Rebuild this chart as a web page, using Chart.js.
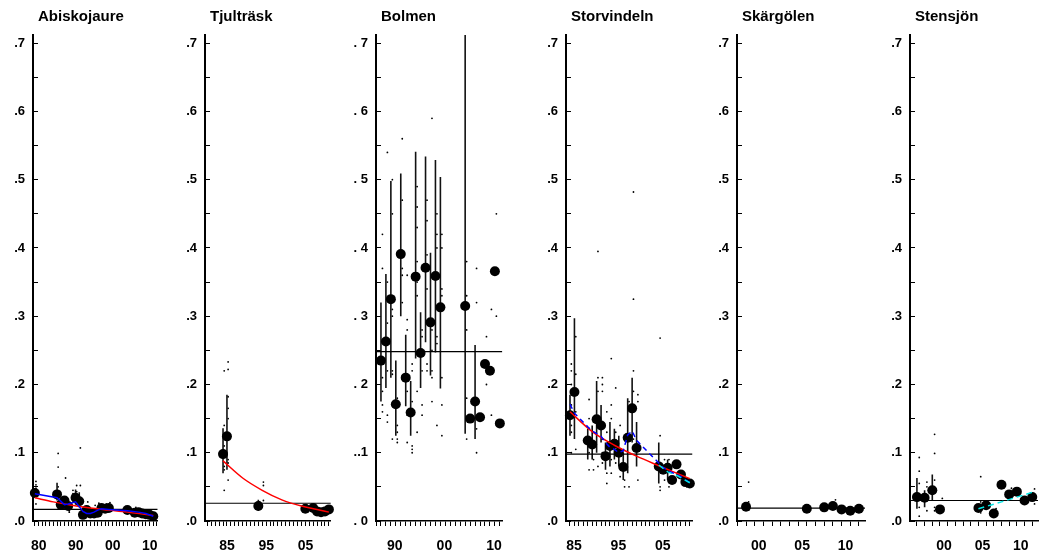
<!DOCTYPE html>
<html>
<head>
<meta charset="utf-8">
<script src="https://cdn.jsdelivr.net/npm/chart.js@4.4.1/dist/chart.umd.min.js"></script>
<style>
  body { margin: 0; background: #fff; width: 1041px; height: 554px; position: relative; overflow: hidden; }
  canvas { position: absolute; top: 0; }
</style>
</head>
<body>
<canvas id="p0"></canvas>
<canvas id="p1"></canvas>
<canvas id="p2"></canvas>
<canvas id="p3"></canvas>
<canvas id="p4"></canvas>
<canvas id="p5"></canvas>
<script>
// ---- data ----
const panelNames = ['Abiskojaure', 'Tjulträsk', 'Bolmen', 'Storvindeln', 'Skärgölen', 'Stensjön'];

// Abiskojaure
const abiRange = [1979.5, 2013.2];
const abiLabelYears = [1980, 1990, 2000, 2010];
const abiYears = [1980, 1986, 1987, 1988, 1989, 1991, 1992, 1993, 1994, 1995, 1996, 1997, 1998, 1999, 2000, 2005, 2007, 2008, 2009, 2010, 2011, 2012];
const abiMeans = [0.041, 0.039, 0.024, 0.030, 0.022, 0.034, 0.029, 0.009, 0.016, 0.011, 0.011, 0.012, 0.019, 0.018, 0.019, 0.016, 0.012, 0.013, 0.011, 0.010, 0.009, 0.007];
const abiBarYears = [1980, 1986, 1991, 1992];
const abiBarLo = [0.036, 0.030, 0.024, 0.020];
const abiBarHi = [0.048, 0.056, 0.046, 0.042];
const abiSmallYears = [1980, 1986, 1988, 1989, 1990, 1991, 1992, 1993, 1994, 1996, 1997, 1999, 2000, 2007];
const abiSmallVals = [[0.058, 0.053, 0.048, 0.025], [0.099, 0.079, 0.050], [0.063, 0.035], [0.015, 0.013], [0.045, 0.040], [0.052, 0.043], [0.107, 0.052], [0.020], [0.028], [0.023], [0.026], [0.025], [0.027], [0.020]];
const abiOverall = 0.017;
const abiRedYears = [1980, 1985, 1990, 1995, 2000, 2005, 2012];
const abiRedVals = [0.034, 0.028, 0.023, 0.019, 0.016, 0.013, 0.008];
const abiBlueYears = [1980, 1986, 1988, 1989, 1991, 1992, 1993, 1994, 1995, 1996, 1997, 1998, 2000, 2005, 2008, 2010, 2012];
const abiBlueVals = [0.040, 0.034, 0.024, 0.025, 0.028, 0.021, 0.014, 0.011, 0.011, 0.013, 0.016, 0.018, 0.017, 0.015, 0.013, 0.011, 0.007];

// Tjulträsk
const tjuRange = [1980.4, 2012.5];
const tjuLabelYears = [1985, 1995, 2005];
const tjuYears = [1985, 1986, 1994, 2006, 2008, 2009, 2010, 2011, 2012];
const tjuMeans = [0.098, 0.124, 0.022, 0.018, 0.019, 0.014, 0.013, 0.014, 0.017];
const tjuBarYears = [1985, 1986, 1994];
const tjuBarLo = [0.070, 0.075, 0.015];
const tjuBarHi = [0.136, 0.185, 0.031];
const tjuSmallYears = [1985, 1986, 1994, 1995];
const tjuSmallVals = [[0.220, 0.140, 0.110, 0.080, 0.075, 0.045], [0.233, 0.222, 0.182, 0.165, 0.150, 0.090, 0.085, 0.060], [0.028], [0.057, 0.052, 0.030]];
const tjuOverall = 0.026;
const tjuRedYears = [1985, 1990, 1995, 2000, 2005, 2009, 2012];
const tjuRedVals = [0.088, 0.063, 0.045, 0.031, 0.022, 0.017, 0.013];

// Bolmen
const bolRange = [1987, 2012.5];
const bolLabelYears = [1990, 2000, 2010];
const bolYLabels = ['. 0', '..1', '. 2', '. 3', '. 4', '. 5', '. 6', '. 7'];
const bolYears = [1988, 1989, 1990, 1991, 1992, 1993, 1994, 1995, 1996, 1997, 1998, 1999, 2000, 2005, 2006, 2007, 2008, 2009, 2010, 2011, 2012];
const bolMeans = [0.235, 0.263, 0.325, 0.171, 0.391, 0.210, 0.159, 0.358, 0.246, 0.371, 0.291, 0.359, 0.313, 0.315, 0.150, 0.175, 0.152, 0.230, 0.220, 0.366, 0.143];
const bolBarYears = [1988, 1989, 1990, 1991, 1992, 1993, 1994, 1995, 1996, 1997, 1998, 1999, 2000, 2005, 2007];
const bolBarLo = [0.175, 0.195, 0.210, 0.125, 0.300, 0.168, 0.125, 0.238, 0.195, 0.262, 0.213, 0.247, 0.194, 0.128, 0.120];
const bolBarHi = [0.320, 0.362, 0.498, 0.235, 0.509, 0.273, 0.205, 0.541, 0.306, 0.534, 0.393, 0.529, 0.504, 0.712, 0.258];
const bolSmallYears = [1988, 1989, 1990, 1991, 1992, 1993, 1994, 1995, 1996, 1997, 1998, 1999, 2000, 2005, 2007, 2009, 2010, 2011];
const bolSmallVals = [
  [0.42, 0.37, 0.21, 0.19, 0.17, 0.16], [0.54, 0.35, 0.29, 0.22, 0.155, 0.145], [0.50, 0.45, 0.31, 0.30, 0.22, 0.215, 0.12],
  [0.18, 0.14, 0.13, 0.12, 0.115], [0.56, 0.47, 0.37, 0.36, 0.32], [0.36, 0.295, 0.28, 0.19, 0.155, 0.115],
  [0.23, 0.22, 0.175, 0.16, 0.11, 0.105, 0.10], [0.49, 0.46, 0.43, 0.38, 0.35, 0.33, 0.19, 0.13], [0.28, 0.27, 0.22, 0.17, 0.155],
  [0.47, 0.44, 0.39, 0.34, 0.23, 0.22], [0.59, 0.28, 0.25, 0.22, 0.21, 0.175], [0.45, 0.42, 0.40, 0.27, 0.26, 0.14],
  [0.42, 0.40, 0.34, 0.33, 0.21, 0.17, 0.125], [0.38, 0.33, 0.28, 0.18, 0.12], [0.37, 0.32, 0.15, 0.135, 0.10],
  [0.27, 0.20], [0.31, 0.155], [0.45, 0.30]
];
const bolOverall = 0.248;

// Storvindeln
const stvRange = [1984.1, 2012.6];
const stvLabelYears = [1985, 1995, 2005];
const stvYears = [1985, 1986, 1989, 1990, 1991, 1992, 1993, 1994, 1995, 1996, 1997, 1998, 1999, 2000, 2005, 2006, 2007, 2008, 2009, 2010, 2011, 2012];
const stvMeans = [0.155, 0.189, 0.118, 0.112, 0.149, 0.140, 0.095, 0.110, 0.113, 0.100, 0.079, 0.122, 0.165, 0.107, 0.080, 0.075, 0.078, 0.060, 0.083, 0.068, 0.057, 0.055];
const stvBarYears = [1985, 1986, 1989, 1990, 1991, 1992, 1993, 1994, 1995, 1996, 1997, 1998, 1999, 2000, 2005, 2007];
const stvBarLo = [0.125, 0.120, 0.090, 0.090, 0.100, 0.115, 0.075, 0.080, 0.090, 0.080, 0.060, 0.070, 0.115, 0.080, 0.055, 0.060];
const stvBarHi = [0.185, 0.297, 0.135, 0.140, 0.205, 0.170, 0.115, 0.145, 0.135, 0.125, 0.100, 0.180, 0.210, 0.145, 0.115, 0.090];
const stvSmallYears = [1985, 1986, 1989, 1990, 1991, 1992, 1993, 1994, 1995, 1996, 1997, 1998, 1999, 2000, 2005, 2006, 2007, 2009, 2011];
const stvSmallVals = [
  [0.230, 0.220, 0.200, 0.170, 0.140, 0.130, 0.100], [0.270, 0.215, 0.160, 0.105], [0.178, 0.150, 0.100, 0.075],
  [0.145, 0.090, 0.075], [0.395, 0.210, 0.190, 0.080], [0.210, 0.200, 0.190, 0.120, 0.100, 0.085],
  [0.160, 0.130, 0.070, 0.055], [0.238, 0.170, 0.150, 0.090, 0.070], [0.195, 0.130, 0.085], [0.140, 0.065],
  [0.060, 0.050], [0.175, 0.050], [0.482, 0.325, 0.220, 0.190, 0.120], [0.185, 0.175, 0.060],
  [0.268, 0.125, 0.050, 0.045], [0.090, 0.060], [0.090, 0.050], [0.070], [0.050]
];
const stvOverall = 0.098;
const stvRedYears = [1985, 1990, 1995, 2000, 2005, 2012];
const stvRedVals = [0.160, 0.131, 0.111, 0.095, 0.081, 0.062];
const stvBlueYears = [1985, 1986, 1989, 1990, 1991, 1992, 1993, 1994, 1995, 1996, 1997, 1998, 1999, 2000, 2005, 2006, 2008, 2010, 2012];
const stvBlueVals = [0.171, 0.158, 0.138, 0.132, 0.128, 0.124, 0.115, 0.108, 0.105, 0.100, 0.103, 0.126, 0.132, 0.118, 0.085, 0.078, 0.071, 0.065, 0.056];
const stvCyanYears = [2005, 2007, 2009, 2012];
const stvCyanVals = [0.082, 0.072, 0.067, 0.056];

// Skärgölen
const skaRange = [1997.96, 2012.7];
const skaLabelYears = [2000, 2005, 2010];
const skaYears = [1999, 2006, 2008, 2009, 2010, 2011, 2012];
const skaMeans = [0.021, 0.018, 0.020, 0.022, 0.017, 0.015, 0.018];
const skaBarYears = [1999];
const skaBarLo = [0.015];
const skaBarHi = [0.026];
const skaSmallYears = [1999, 2009];
const skaSmallVals = [[0.057, 0.028, 0.016], [0.031]];
const skaOverall = 0.019;

// Stensjön
const steRange = [1996.1, 2012.75];
const steLabelYears = [2000, 2005, 2010];
const steYears = [1997, 1998, 1999, 2000, 2005, 2006, 2007, 2008, 2009, 2010, 2011, 2012];
const steMeans = [0.035, 0.034, 0.045, 0.017, 0.019, 0.023, 0.011, 0.053, 0.039, 0.043, 0.030, 0.035];
const steBarYears = [1997, 1998, 1999];
const steBarLo = [0.018, 0.020, 0.030];
const steBarHi = [0.063, 0.045, 0.068];
const steSmallYears = [1997, 1998, 1999, 2000, 2005, 2007, 2009, 2012];
const steSmallVals = [[0.093, 0.073, 0.055, 0.040, 0.020, 0.007], [0.057, 0.050, 0.015], [0.127, 0.099, 0.060, 0.020, 0.015], [0.033, 0.020], [0.065, 0.028, 0.012], [0.018], [0.048], [0.047, 0.025]];
const steOverall = 0.030;
const steCyanYears = [2005, 2008, 2010, 2012];
const steCyanVals = [0.018, 0.028, 0.035, 0.042];

// ---- layout ----
const axisLeft = [33, 205, 376, 566, 737, 910];
const plotW = 128;
const yAxisW = 40;
const FONT = '"Liberation Sans", Arial, Helvetica, sans-serif';

const pts = (xs, ys) => xs.map((x, i) => ({x, y: ys[i]}));
const segs = (xs, lo, hi) => xs.flatMap((x, i) => [{x, y: lo[i]}, {x, y: hi[i]}, {x, y: null}]);
const cloud = (xs, vals) => xs.flatMap((x, i) => vals[i].map(v => ({x: x + 0.3, y: v})));

const titlePlugin = {
  id: 'panelTitle',
  afterDraw(chart, args, opts) {
    const c = chart.ctx;
    c.save();
    c.font = 'bold 15px ' + FONT;
    c.fillStyle = '#000';
    c.textBaseline = 'middle';
    c.fillText(opts.text, chart.chartArea.left + 5, 17);
    c.restore();
  }
};

function lineSet(data, color, width, dash, order) {
  return {type: 'line', data, borderColor: color, borderWidth: width, borderDash: dash || [],
    pointRadius: 0, tension: 0, fill: false, order, spanGaps: false};
}

function makePanel(idx, p) {
  const cv = document.getElementById('p' + idx);
  cv.width = yAxisW + plotW + 8;
  cv.height = 554;
  cv.style.left = (axisLeft[idx] - yAxisW) + 'px';

  const datasets = [
    {type: 'scatter', data: cloud(p.smallYears, p.smallVals), pointRadius: 0.9, pointBackgroundColor: '#000', pointBorderWidth: 0, order: 6, clip: false},
    lineSet(segs(p.barYears, p.barLo, p.barHi), '#111', 1.6, null, 5),
    lineSet([{x: p.range[0], y: p.overall}, {x: p.range[1], y: p.overall}], '#000', 1.2, null, 4),
    {type: 'scatter', data: pts(p.years, p.means), pointRadius: 5, pointBackgroundColor: '#000', pointBorderWidth: 0, order: 3, clip: false}
  ];
  if (p.red) datasets.push(Object.assign(lineSet(pts(p.red[0], p.red[1]), '#ff0000', 1.5, null, 2), {tension: 0.4, cubicInterpolationMode: 'monotone'}));
  if (p.blue) datasets.push(lineSet(pts(p.blue[0], p.blue[1]), '#0000ff', 1.5, p.blueDash, 1));
  if (p.cyan) datasets.push(lineSet(pts(p.cyan[0], p.cyan[1]), '#00e5e5', 1.5, [6, 4], 0));

  const inRange = s => { s.ticks = s.ticks.filter(t => t.value >= s.min - 1e-9 && t.value <= s.max + 1e-9); };

  new Chart(cv, {
    type: 'scatter',
    data: {datasets},
    plugins: [titlePlugin],
    options: {
      responsive: false,
      animation: false,
      events: [],
      devicePixelRatio: 1,
      layout: {padding: {top: 35, right: 8, bottom: 0, left: 0}},
      plugins: {legend: {display: false}, tooltip: {enabled: false}, panelTitle: {text: panelNames[idx]}},
      scales: {
        x: {
          type: 'linear', min: p.range[0], max: p.range[1],
          afterBuildTicks: inRange,
          afterFit: s => { s.height = 33; },
          ticks: {
            stepSize: 1, includeBounds: false, autoSkip: false, maxRotation: 0, minRotation: 0,
            padding: 12, labelOffset: 4, color: '#000',
            font: {family: FONT, size: 14, weight: 'bold'},
            callback: v => p.labelYears.includes(Math.round(v)) ? String(Math.round(v)).slice(2) : ''
          },
          grid: {drawOnChartArea: false, drawTicks: true, tickLength: 5, color: '#000', tickWidth: 1},
          border: {display: true, color: '#000', width: 1.5}
        },
        y: {
          min: 0, max: 0.712,
          afterBuildTicks: inRange,
          afterFit: s => { s.width = yAxisW; },
          ticks: {
            stepSize: 0.05, includeBounds: false, autoSkip: false, padding: 13, color: '#000',
            font: {family: FONT, size: 13, weight: 'bold'},
            callback: v => {
              const k = Math.round(v * 100);
              if (k % 10 !== 0) return '';
              return p.yLabels ? p.yLabels[k / 10] : (k / 100).toFixed(1).slice(1);
            }
          },
          grid: {drawOnChartArea: false, drawTicks: true, tickLength: -5, color: '#000', tickWidth: 1},
          border: {display: true, color: '#000', width: 2}
        }
      }
    }
  });
}

makePanel(0, {range: abiRange, labelYears: abiLabelYears, years: abiYears, means: abiMeans,
  barYears: abiBarYears, barLo: abiBarLo, barHi: abiBarHi, smallYears: abiSmallYears, smallVals: abiSmallVals,
  overall: abiOverall, red: [abiRedYears, abiRedVals], blue: [abiBlueYears, abiBlueVals]});
makePanel(1, {range: tjuRange, labelYears: tjuLabelYears, years: tjuYears, means: tjuMeans,
  barYears: tjuBarYears, barLo: tjuBarLo, barHi: tjuBarHi, smallYears: tjuSmallYears, smallVals: tjuSmallVals,
  overall: tjuOverall, red: [tjuRedYears, tjuRedVals]});
makePanel(2, {range: bolRange, labelYears: bolLabelYears, yLabels: bolYLabels, years: bolYears, means: bolMeans,
  barYears: bolBarYears, barLo: bolBarLo, barHi: bolBarHi, smallYears: bolSmallYears, smallVals: bolSmallVals,
  overall: bolOverall});
makePanel(3, {range: stvRange, labelYears: stvLabelYears, years: stvYears, means: stvMeans,
  barYears: stvBarYears, barLo: stvBarLo, barHi: stvBarHi, smallYears: stvSmallYears, smallVals: stvSmallVals,
  overall: stvOverall, red: [stvRedYears, stvRedVals], blue: [stvBlueYears, stvBlueVals], blueDash: [5, 4],
  cyan: [stvCyanYears, stvCyanVals]});
makePanel(4, {range: skaRange, labelYears: skaLabelYears, years: skaYears, means: skaMeans,
  barYears: skaBarYears, barLo: skaBarLo, barHi: skaBarHi, smallYears: skaSmallYears, smallVals: skaSmallVals,
  overall: skaOverall});
makePanel(5, {range: steRange, labelYears: steLabelYears, years: steYears, means: steMeans,
  barYears: steBarYears, barLo: steBarLo, barHi: steBarHi, smallYears: steSmallYears, smallVals: steSmallVals,
  overall: steOverall, cyan: [steCyanYears, steCyanVals]});
</script>
</body>
</html>
